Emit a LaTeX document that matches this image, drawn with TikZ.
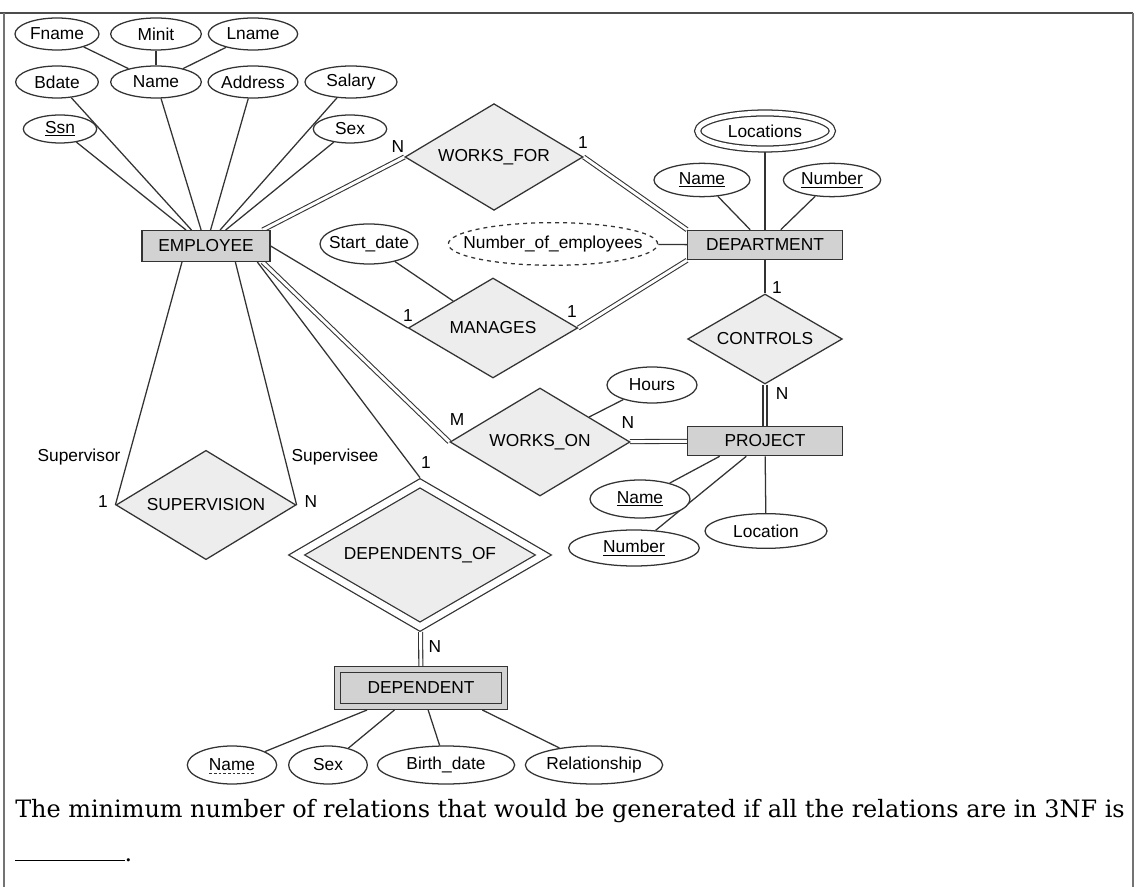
\documentclass[tikz,border=0pt]{standalone}
\usepackage{fontspec}
\newfontfamily\erfont{Liberation Sans}
\newfontfamily\qfont{DejaVu Serif}
\usetikzlibrary{positioning, shapes.geometric, backgrounds}

\definecolor{entfill}{HTML}{D2D2D2}
\definecolor{relfill}{HTML}{EDEDED}
\definecolor{inkline}{HTML}{333333}

\newcommand{\tightlbl}[1]{\makebox[0pt]{#1}}

\begin{document}
\begin{tikzpicture}[x=0.75pt, y=-0.75pt, font=\erfont\fontsize{13}{15}\selectfont]
  \tikzstyle{ent}=[draw=inkline, fill=entfill, line width=0.95pt, inner sep=0pt, minimum width=116pt, minimum height=22pt]
  \tikzstyle{rel}=[diamond, draw=inkline, fill=relfill, line width=0.95pt, inner sep=0pt, shape aspect=1.7]
  \tikzstyle{attr}=[ellipse, draw=inkline, fill=white, line width=0.95pt, inner sep=0pt, minimum height=24pt]
  \tikzstyle{link}=[draw=inkline, line width=0.95pt]
  \tikzstyle{total}=[draw=inkline, line width=0.8pt, double, double distance=2.2pt]
  \tikzstyle{card}=[inner sep=1pt]

  \useasboundingbox (0,0) rectangle (1139,887);
  % frame, open at the bottom
  \draw[line width=1.3pt, draw=black!70] (0,13) -- (1133,13);
  \draw[line width=1.3pt, draw=black!55] (4,13) -- (4,887) (1133,13) -- (1133,887);

  % EMPLOYEE and its attributes
  \node[ent, minimum width=96pt, minimum height=23pt] (emp) at (206,246) {EMPLOYEE};
  \node[attr, minimum width=63pt] (fname) at (57,34) {Fname};
  \node[attr, minimum width=68pt] (minit) at (156,34) {Minit};
  \node[attr, minimum width=67pt] (lname) at (253,34) {Lname};
  \node[attr, minimum width=62pt] (bdate) at (57,82) {Bdate};
  \node[attr, minimum width=68pt] (ename) at (156,82) {Name};
  \node[attr, minimum width=67pt] (addr) at (253,82) {Address};
  \node[attr, minimum width=69pt] (salary) at (351,82) {Salary};
  \node[attr, minimum width=55pt, minimum height=21pt] (ssn) at (60,129) {\underline{Ssn}};
  \node[attr, minimum width=55pt, minimum height=21pt] (esex) at (350,129) {Sex};

  % DEPARTMENT and its attributes
  \node[ent] (dept) at (765,245) {DEPARTMENT};
  \node[attr, double, double distance=3.5pt, outer sep=2.5pt, minimum width=101pt, minimum height=27pt] (locs) at (765,131) {\tightlbl{Locations}};
  \node[attr, minimum width=72pt, minimum height=25pt] (dname) at (702,180) {\underline{Name}};
  \node[attr, minimum width=73pt, minimum height=25pt] (dnum) at (832,180) {\underline{Number}};
  \node[attr, dashed, minimum width=157pt, minimum height=32pt] (nemp) at (553,244) {\tightlbl{Number\_of\_employees}};

  % relationships
  \node[rel, minimum width=133.5pt, minimum height=80pt] (worksfor) at (494,157) {WORKS\_FOR};
  \node[rel, minimum width=127pt, minimum height=75pt] (manages) at (493,328) {MANAGES};
  \node[attr, minimum width=73.5pt, minimum height=30pt] (sdate) at (369,244) {\tightlbl{Start\_date}};
  \node[rel, minimum width=116pt, minimum height=67.5pt] (controls) at (765,339) {CONTROLS};
  \node[rel, minimum width=135pt, minimum height=81pt] (workson) at (540,442) {WORKS\_ON};
  \node[attr, minimum width=67.5pt, minimum height=27pt] (hours) at (652,385) {Hours};
  \node[rel, minimum width=135pt, minimum height=82pt] (superv) at (206,505) {SUPERVISION};
  \node[rel, double, double distance=5pt, outer sep=3pt, minimum width=187.5pt, minimum height=110pt] (depof) at (420,555) {DEPENDENTS\_OF};

  % PROJECT and its attributes
  \node[ent] (proj) at (765,441) {PROJECT};
  \node[attr, minimum width=75pt, minimum height=28.5pt] (pname) at (640,499) {\underline{Name}};
  \node[attr, minimum width=98pt, minimum height=27pt] (pnum) at (634,548) {\underline{Number}};
  \node[attr, minimum width=91.5pt, minimum height=26pt] (ploc) at (766,531) {Location};

  % DEPENDENT and its attributes
  \node[ent, double=entfill, double distance=3.7pt, outer sep=2.5pt, minimum width=125pt, minimum height=28pt] (dep) at (421,688) {DEPENDENT};
  \node[attr, minimum width=67pt, minimum height=28.5pt] (dpname) at (232,765) {Name};
  \draw[inkline, dash pattern=on 2pt off 1.5pt, line width=0.5pt] ([xshift=-17pt, yshift=-2.2pt]dpname.base) -- ([xshift=17pt, yshift=-2.2pt]dpname.base);
  \node[attr, minimum width=59pt, minimum height=28.5pt] (dsex) at (328,765) {Sex};
  \node[attr, minimum width=103pt, minimum height=28.5pt] (dbirth) at (446,765) {\tightlbl{Birth\_date}};
  \node[attr, minimum width=103pt, minimum height=28.5pt] (rship) at (594,765) {\tightlbl{Relationship}};

  % connectors
  \begin{scope}[on background layer]
    \foreach \a in {fname, minit, lname} \draw[link] (\a) -- (ename);
    \foreach \a in {ssn, bdate, ename, addr, salary, esex} \draw[link] (\a) -- (emp);
    \foreach \a in {locs, dname, dnum, nemp} \draw[link] (\a) -- (dept);
    \foreach \a in {pnum, ploc} \draw[link] (\a) -- (proj);
    \draw[link] (pname) -- ([xshift=-34pt]proj.south);
    \foreach \a in {dpname, dsex, dbirth} \draw[link] (\a) -- (dep);
    \draw[link] (rship) -- ([xshift=46pt]dep.south);
    \draw[link] (sdate) -- (manages);
    \draw[link] (hours) -- (workson);
    \draw[total] ([xshift=-6pt]emp.north east) -- (worksfor.west);
    \draw[total] (worksfor.east) -- (dept.north west);
    \draw[link] (emp.east) -- (manages.west);
    \draw[total] (manages.east) -- (dept.south west);
    \draw[link] (dept) -- (controls);
    \draw[total] (controls) -- (proj);
    \draw[total] ([xshift=-6pt]emp.south east) -- (workson.west);
    \draw[total] (workson) -- (proj);
    \draw[link] ([xshift=-10pt]emp.south east) -- (depof.north);
    \draw[total] (depof) -- (dep);
    \draw[link] ([xshift=-18pt]emp.south) -- (superv.west);
    \draw[link] ([xshift=22pt]emp.south) -- (superv.east);
  \end{scope}

  % cardinalities and roles
  \node[card] (cwf1) at (398,147) {N};
  \node[card] (cwf2) at (583,143) {1};
  \node[card] (cmg1) at (408,316) {1};
  \node[card] (cmg2) at (572,312) {1};
  \node[card] (cct1) at (777,288) {1};
  \node[card] (cct2) at (782,394) {N};
  \node[card] (cwo1) at (457,420) {M};
  \node[card] (cwo2) at (628,423) {N};
  \node[card] (cdo1) at (426,463) {1};
  \node[card] (cdo2) at (435,647) {N};
  \node[card] (csv1) at (103,502) {1};
  \node[card] (csv2) at (311,502) {N};
  \node[card] (rsup) at (79,457) {Supervisor};
  \node[card] (rsee) at (335,457) {Supervisee};

  % question text
  \node[anchor=base west, inner sep=0pt, font=\qfont\fontsize{17.95}{21}\selectfont] (question) at (15,817)
    {The minimum number of relations that would be generated if all the relations are in 3NF is};
  \node[anchor=base west, inner sep=0pt, font=\qfont\fontsize{17.95}{21}\selectfont] (blank) at (15,861)
    {\rule{82pt}{0.8pt}.};
\end{tikzpicture}
\end{document}
